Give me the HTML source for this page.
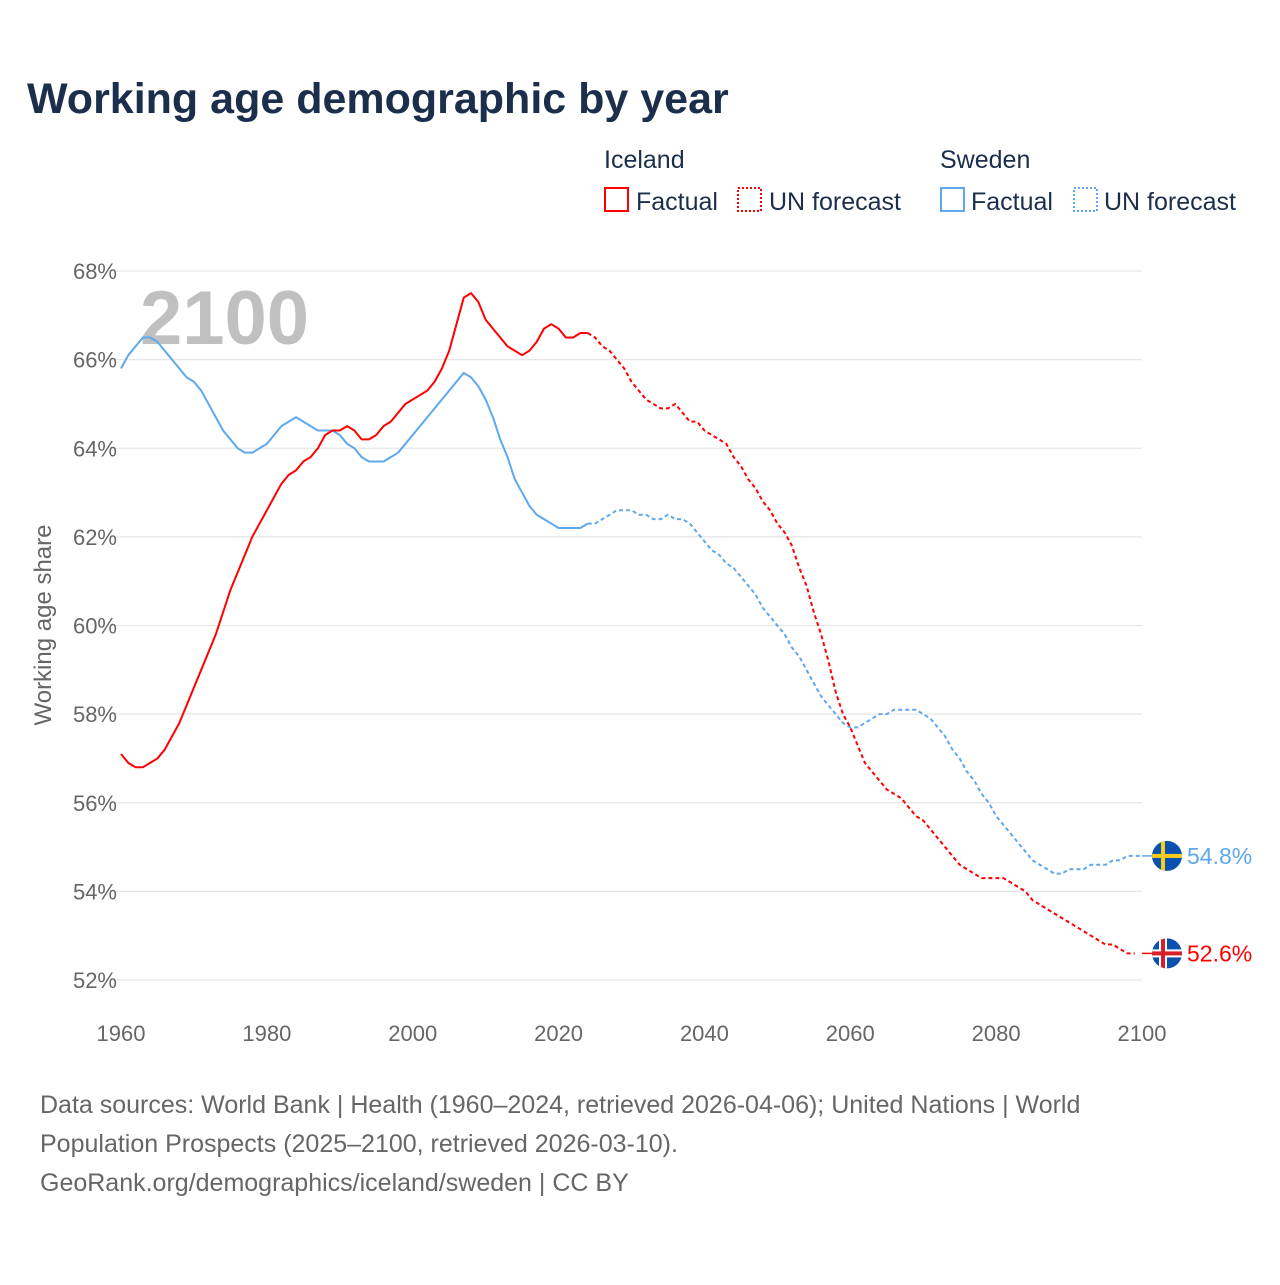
<!DOCTYPE html>
<html><head><meta charset="utf-8"><style>
body{margin:0;background:#fff;font-family:"Liberation Sans",sans-serif;}
</style></head><body>
<svg id="chart" width="1280" height="1280" xmlns="http://www.w3.org/2000/svg" font-family="Liberation Sans, sans-serif">
<defs>
<clipPath id="cs"><circle cx="0" cy="0" r="15"/></clipPath>
</defs>
<text x="27" y="113" font-size="43" font-weight="bold" fill="#1b2e4b">Working age demographic by year</text>
<g font-size="25" fill="#1b2e4b">
<text x="604" y="168">Iceland</text>
<rect x="605" y="188" width="23" height="23" fill="none" stroke="#ff0000" stroke-width="2"/>
<text x="636" y="210">Factual</text>
<rect x="738" y="188" width="23" height="23" fill="none" stroke="#ff0000" stroke-width="2" stroke-dasharray="2,2"/>
<text x="769" y="210">UN forecast</text>
<text x="940" y="168">Sweden</text>
<rect x="941" y="188" width="23" height="23" fill="none" stroke="#5ea8ee" stroke-width="2"/>
<text x="971" y="210">Factual</text>
<rect x="1074" y="188" width="23" height="23" fill="none" stroke="#5ea8ee" stroke-width="2" stroke-dasharray="2,2"/>
<text x="1104" y="210">UN forecast</text>
</g>
<g id="grid"></g>
<text x="140" y="344" font-size="76" font-weight="bold" fill="#c0c0c0">2100</text>
<text transform="translate(51,625) rotate(-90)" text-anchor="middle" font-size="24" fill="#666">Working age share</text>
<g id="series"></g>
<g font-size="25" fill="#666">
<text x="40" y="1113">Data sources: World Bank | Health (1960–2024, retrieved 2026-04-06); United Nations | World</text>
<text x="40" y="1152">Population Prospects (2025–2100, retrieved 2026-03-10).</text>
<text x="40" y="1191">GeoRank.org/demographics/iceland/sweden | CC BY</text>
</g>
</svg>
<script>
const yTicks=[52,54,56,58,60,62,64,66,68];
const xTicks=[1960,1980,2000,2020,2040,2060,2080,2100];
const icelandFactual=[57.1,56.9,56.8,56.8,56.9,57.0,57.2,57.5,57.8,58.2,58.6,59.0,59.4,59.8,60.3,60.8,61.2,61.6,62.0,62.3,62.6,62.9,63.2,63.4,63.5,63.7,63.8,64.0,64.3,64.4,64.4,64.5,64.4,64.2,64.2,64.3,64.5,64.6,64.8,65.0,65.1,65.2,65.3,65.5,65.8,66.2,66.8,67.4,67.5,67.3,66.9,66.7,66.5,66.3,66.2,66.1,66.2,66.4,66.7,66.8,66.7,66.5,66.5,66.6,66.6];
const icelandForecast=[66.6,66.5,66.3,66.2,66.0,65.8,65.5,65.3,65.1,65.0,64.9,64.9,65.0,64.8,64.6,64.6,64.4,64.3,64.2,64.1,63.8,63.6,63.3,63.1,62.8,62.6,62.3,62.1,61.8,61.3,60.9,60.3,59.8,59.2,58.5,58.0,57.7,57.3,56.9,56.7,56.5,56.3,56.2,56.1,55.9,55.7,55.6,55.4,55.2,55.0,54.8,54.6,54.5,54.4,54.3,54.3,54.3,54.3,54.2,54.1,54.0,53.8,53.7,53.6,53.5,53.4,53.3,53.2,53.1,53.0,52.9,52.8,52.8,52.7,52.6,52.6];
const swedenFactual=[65.8,66.1,66.3,66.5,66.5,66.4,66.2,66.0,65.8,65.6,65.5,65.3,65.0,64.7,64.4,64.2,64.0,63.9,63.9,64.0,64.1,64.3,64.5,64.6,64.7,64.6,64.5,64.4,64.4,64.4,64.3,64.1,64.0,63.8,63.7,63.7,63.7,63.8,63.9,64.1,64.3,64.5,64.7,64.9,65.1,65.3,65.5,65.7,65.6,65.4,65.1,64.7,64.2,63.8,63.3,63.0,62.7,62.5,62.4,62.3,62.2,62.2,62.2,62.2,62.3];
const swedenForecast=[62.3,62.3,62.4,62.5,62.6,62.6,62.6,62.5,62.5,62.4,62.4,62.5,62.4,62.4,62.3,62.1,61.9,61.7,61.6,61.4,61.3,61.1,60.9,60.7,60.4,60.2,60.0,59.8,59.5,59.3,59.0,58.7,58.4,58.2,58.0,57.8,57.7,57.7,57.8,57.9,58.0,58.0,58.1,58.1,58.1,58.1,58.0,57.9,57.7,57.5,57.2,57.0,56.7,56.5,56.2,56.0,55.7,55.5,55.3,55.1,54.9,54.7,54.6,54.5,54.4,54.4,54.5,54.5,54.5,54.6,54.6,54.6,54.7,54.7,54.8,54.8,54.8];
const NS="http://www.w3.org/2000/svg";
const X=y=>121+(y-1960)*(1021/140);
const Y=v=>980-(v-52)*(709/16);
const grid=document.getElementById('grid'), series=document.getElementById('series');
function mk(tag,attrs,parent){const e=document.createElementNS(NS,tag);for(const k in attrs)e.setAttribute(k,attrs[k]);parent.appendChild(e);return e;}
yTicks.forEach(t=>{
  const l=mk('line',{x1:110,x2:1142,y1:Y(t),y2:Y(t),stroke:'#e6e6e6','stroke-width':1.2},grid);
  
  
  const tx=mk('text',{x:117,y:Y(t)+8,'text-anchor':'end','font-size':22,fill:'#666'},grid);
  tx.textContent=t+'%';
  
  
});
xTicks.forEach(t=>{
  const tx=mk('text',{x:X(t),y:1041,'text-anchor':'middle','font-size':22,fill:'#666'},grid);
  tx.textContent=t;
  
  
});
function line(arr,start,color,dash,name){
  const d=arr.map((v,i)=>(i?'L':'M')+X(start+i).toFixed(2)+','+Y(v).toFixed(2)).join('');
  const p=mk('path',{d:d,fill:'none',stroke:color,'stroke-width':2,'stroke-linejoin':'round'},series);
  if(dash)p.setAttribute('stroke-dasharray','4,3');
  
  
}
line(swedenFactual,1960,'#5ea8ee',false,'sweden-factual-line');
line(swedenForecast,2024,'#5ea8ee',true,'sweden-forecast-line');
line(icelandFactual,1960,'#ff0000',false,'iceland-factual-line');
line(icelandForecast,2024,'#ff0000',true,'iceland-forecast-line');
function endCap(val,color,name,flag){
  const y=Y(val);
  mk('line',{x1:X(2100),x2:1152,y1:y,y2:y,stroke:color,'stroke-width':1.5},series);
  const g=mk('g',{transform:'translate(1167,'+y.toFixed(2)+')','clip-path':'url(#cs)'},series);
  
  
  mk('rect',{x:-16,y:-16,width:32,height:32,fill:'#0b52b0'},g);
  if(flag==='se'){
    mk('rect',{x:-16,y:-2,width:32,height:4,fill:'#f8cc1b'},g);
    mk('rect',{x:-6,y:-16,width:4,height:32,fill:'#f8cc1b'},g);
  }else{
    mk('rect',{x:-16,y:-4,width:32,height:8,fill:'#fff'},g);
    mk('rect',{x:-8,y:-16,width:8,height:32,fill:'#fff'},g);
    mk('rect',{x:-16,y:-2,width:32,height:4,fill:'#d7202c'},g);
    mk('rect',{x:-6,y:-16,width:4,height:32,fill:'#d7202c'},g);
  }
  const t=mk('text',{x:1187,y:y+8,'font-size':23,fill:color},series);
  t.textContent=val.toFixed(1)+'%';
  
  
}
endCap(swedenForecast[swedenForecast.length-1],'#5ea8ee','sweden','se');
endCap(icelandForecast[icelandForecast.length-1],'#ff0000','iceland','is');
</script>
</body></html>
